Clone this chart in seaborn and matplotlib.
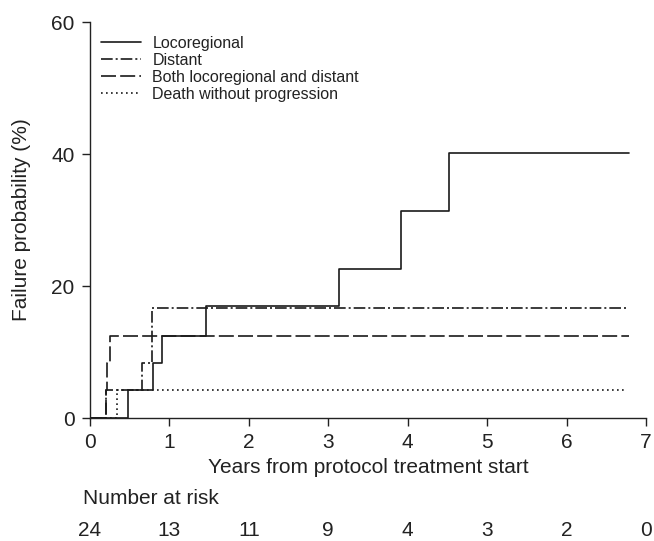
import matplotlib
matplotlib.use("Agg")
import matplotlib.pyplot as plt
import seaborn as sns
import pandas as pd
import matplotlib.transforms as mtransforms

# ---- data ----
loco_t = [0, 0.48, 0.79, 0.91, 1.46, 3.14, 3.91, 4.52, 6.79]
loco_y = [0, 4.2, 8.3, 12.5, 17.0, 22.6, 31.3, 40.2, 40.2]
dist_t = [0, 0.20, 0.65, 0.78, 6.79]
dist_y = [0, 4.2, 8.3, 16.7, 16.7]
both_t = [0, 0.20, 0.22, 0.25, 6.79]
both_y = [0, 4.2, 8.3, 12.5, 12.5]
death_t = [0, 0.34, 6.74]
death_y = [0, 4.2, 4.2]

series_names = ["Locoregional", "Distant", "Both locoregional and distant",
                "Death without progression"]
risk_times = [0, 1, 2, 3, 4, 5, 6, 7]
risk_counts = [24, 13, 11, 9, 4, 3, 2, 0]
x_ticks = [0, 1, 2, 3, 4, 5, 6, 7]
y_ticks = [0, 20, 40, 60]

sns.set_theme(style="ticks")
plt.rcParams["font.family"] = ["Liberation Sans", "DejaVu Sans"]

fig = plt.figure(figsize=(6.54, 5.41), dpi=100)
ax = fig.add_axes([90/654, 1-418/541, (646-90)/654, (418-22)/541])

col = "#1a1a1a"
styles = [
    dict(linestyle="-"),
    dict(dashes=(7, 1.8, 1.2, 1.8)),
    dict(dashes=(9, 2.5)),
    dict(dashes=(1, 2)),
]
data = [(loco_t, loco_y), (dist_t, dist_y), (both_t, both_y), (death_t, death_y)]
for name, (t, y), st in zip(series_names, data, styles):
    df = pd.DataFrame({"t": t, "y": y})
    sns.lineplot(data=df, x="t", y="y", ax=ax, estimator=None, sort=False,
                 drawstyle="steps-post", color=col, linewidth=1.2, label=name, **st)

ax.set_xlim(0, 7)
ax.set_ylim(0, 60)
ax.set_xticks(x_ticks)
ax.set_yticks(y_ticks)
for s in ["top", "right"]:
    ax.spines[s].set_visible(False)
for s in ["left", "bottom"]:
    ax.spines[s].set_color("#222222")
    ax.spines[s].set_linewidth(1.0)
ax.tick_params(axis="both", direction="out", length=6, width=1.0, colors="#222222",
               labelsize=15, pad=5, labelcolor="#222222")
ax.set_xlabel("Years from protocol treatment start", fontsize=15, color="#222222", labelpad=4)
ax.set_ylabel("Failure probability (%)", fontsize=15, color="#222222", labelpad=15)

leg = ax.legend(loc="upper left", bbox_to_anchor=(0.0, 0.993), frameon=False,
                fontsize=11.5, handlelength=2.5, handletextpad=0.7,
                labelspacing=0.12, borderaxespad=0.3)
for txt in leg.get_texts():
    txt.set_color("#222222")

trans = mtransforms.blended_transform_factory(ax.transData, fig.transFigure)
fig.text(83/654, 1-499/541, "Number at risk", fontsize=15, color="#222222",
         ha="left", va="center")
for t, n in zip(risk_times, risk_counts):
    ax.text(t, 1-531/541, str(n), transform=trans, fontsize=15, color="#222222",
            ha="center", va="center", clip_on=False)

fig.savefig("out.png", dpi=100)
